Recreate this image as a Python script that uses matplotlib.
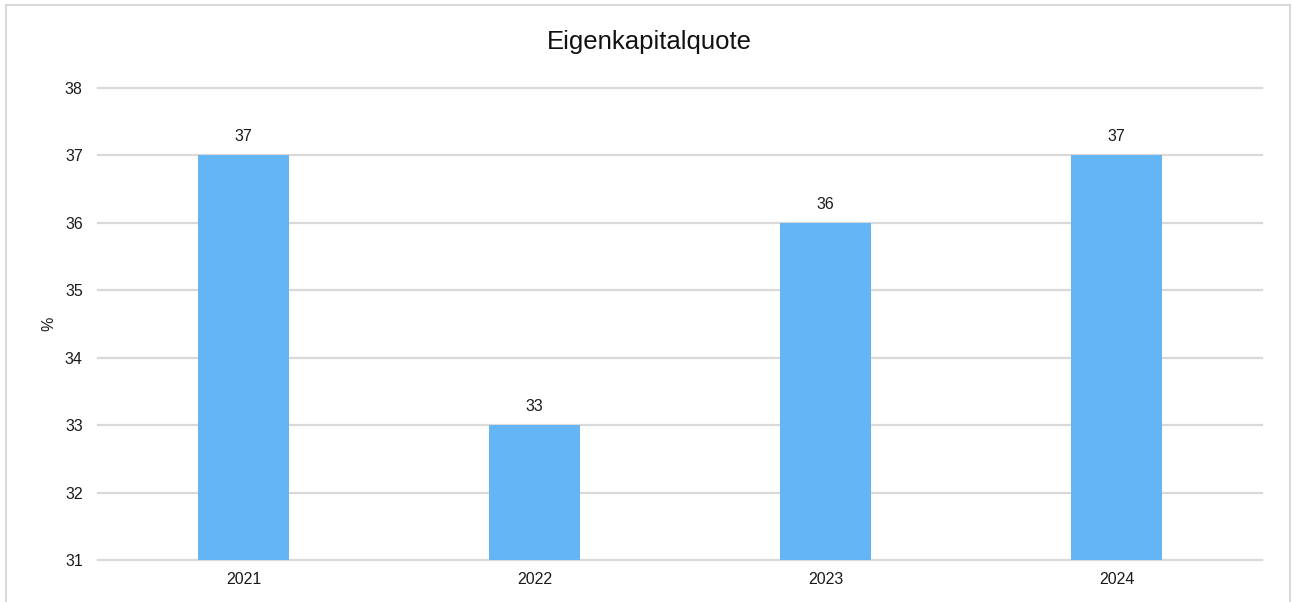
import matplotlib
matplotlib.use("Agg")
import matplotlib.pyplot as plt

years = ["2021", "2022", "2023", "2024"]
values = [37, 33, 36, 37]
yticks = [31, 32, 33, 34, 35, 36, 37, 38]

plt.rcParams['font.family'] = ['Liberation Sans', 'DejaVu Sans']

W, H = 1292, 602
fig = plt.figure(figsize=(W / 100, H / 100), dpi=100)
fig.patch.set_facecolor("white")

# outer light frame (left, top, right)
fig.add_artist(plt.Line2D([6 / W, 6 / W], [0, 1 - 5 / H], color="#d9d9d9", lw=1.5, transform=fig.transFigure))
fig.add_artist(plt.Line2D([6 / W, 1290 / W], [1 - 5 / H, 1 - 5 / H], color="#d9d9d9", lw=1.5, transform=fig.transFigure))
fig.add_artist(plt.Line2D([1290 / W, 1290 / W], [0, 1 - 5 / H], color="#d9d9d9", lw=1.5, transform=fig.transFigure))

left, right = 98, 1262
top, bottom = 88, 560
ax = fig.add_axes([left / W, 1 - bottom / H, (right - left) / W, (bottom - top) / H])

x = list(range(len(years)))
ax.bar(x, [v - yticks[0] for v in values], bottom=yticks[0], width=0.31,
       color="#64B5F6", zorder=3)

ax.set_xlim(-0.5, len(years) - 0.5)
ax.set_ylim(yticks[0], yticks[-1])
ax.set_yticks(yticks)
ax.set_yticklabels([str(t) for t in yticks])
ax.set_xticks(x)
ax.set_xticklabels(years)
ax.yaxis.grid(True, color="#d9d9d9", lw=1.6, zorder=0)
for gl in ax.get_ygridlines():
    gl.set_clip_on(False)
ax.set_axisbelow(True)
for s in ax.spines.values():
    s.set_visible(False)
ax.tick_params(axis="both", length=0, labelsize=11.5, colors="#1a1a1a")
ax.tick_params(axis="y", pad=11)
ax.tick_params(axis="x", pad=9)

for xi, v in zip(x, values):
    ax.annotate(str(v), (xi, v), xytext=(0, 8), textcoords="offset points",
                ha="center", va="bottom", fontsize=11.5, color="#1a1a1a")

ax.set_ylabel("%", fontsize=11.5, color="#1a1a1a")
ax.yaxis.set_label_coords((56 - left) / (right - left), 0.5)
fig.text(649 / W, 1 - 42 / H, "Eigenkapitalquote", ha="center", va="center",
         fontsize=18.5, color="#111111")

fig.savefig("out.png", dpi=100)
